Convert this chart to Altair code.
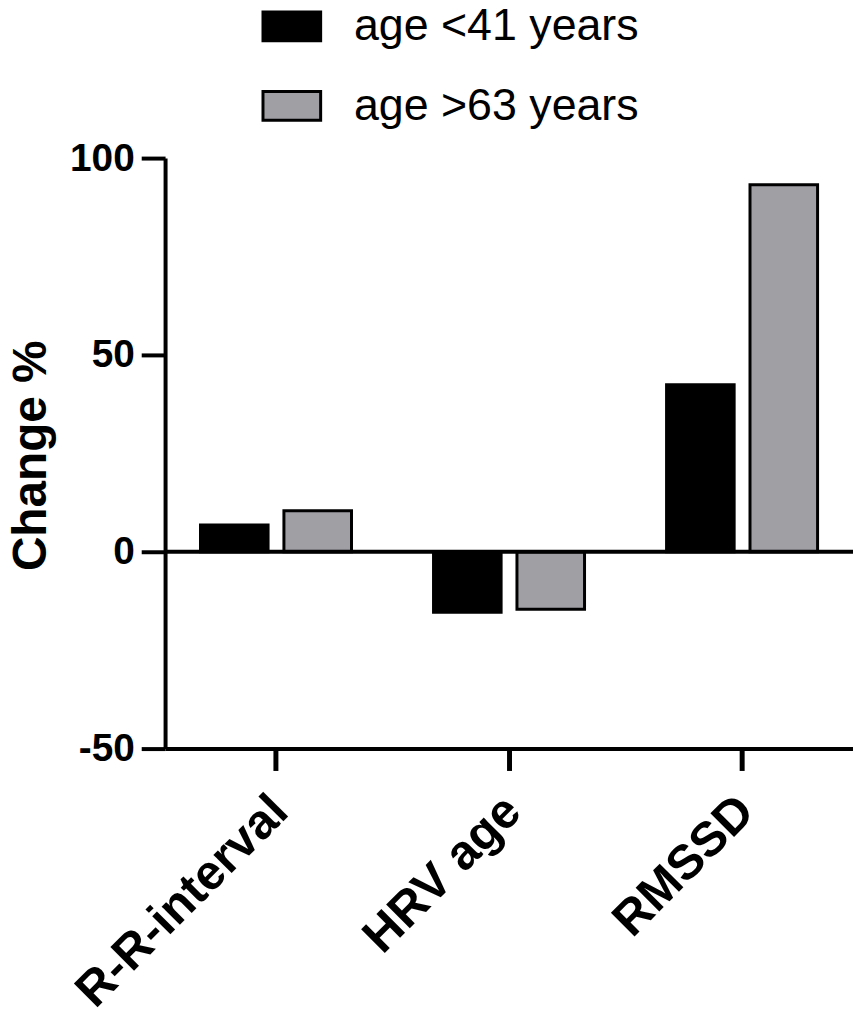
import altair as alt
import pandas as pd

categories = ["R-R-interval", "HRV age", "RMSSD"]
groups = ["age <41 years", "age >63 years"]
young = [6.8, -15.4, 42.4]
old = [10.4, -14.6, 93.2]
y_ticks = [-50, 0, 50, 100]
colors = ["#000000", "#a09fa4"]

rows = []
for c, a, b in zip(categories, young, old):
    rows.append({"category": c, "group": groups[0], "value": a})
    rows.append({"category": c, "group": groups[1], "value": b})
df = pd.DataFrame(rows)

FONT = "Liberation Sans"

bars = alt.Chart(df).mark_bar(stroke="black", strokeWidth=3).encode(
    x=alt.X(
        "category:N",
        sort=categories,
        scale=alt.Scale(paddingInner=0.352, paddingOuter=0.152),
        axis=alt.Axis(
            title=None,
            domainWidth=4,
            domainColor="black",
            tickWidth=5,
            tickColor="black",
            tickSize=22,
            labelAngle=-45,
            labelAlign="right",
            labelBaseline="top",
            labelOffset=-13,
            labelPadding=16,
            labelFontSize=49,
            labelFontWeight="bold",
            labelFont=FONT,
            labelColor="black",
            labelLimit=1000,
            grid=False,
        ),
    ),
    xOffset=alt.XOffset("group:N", sort=groups, scale=alt.Scale(paddingInner=0.19)),
    y=alt.Y(
        "value:Q",
        scale=alt.Scale(domain=[-50, 100], nice=False),
        axis=alt.Axis(
            values=y_ticks,
            labelExpr="datum.value < 0 ? '-' + abs(datum.value) : '' + datum.value",
            title="Change %",
            titleFontSize=48,
            titleFontWeight="bold",
            titleFont=FONT,
            titleColor="black",
            titleAngle=-90,
            titleBaseline="alphabetic",
            titleAlign="center",
            titleX=-120,
            titleY=299,
            domainWidth=4,
            domainColor="black",
            tickWidth=4,
            tickColor="black",
            tickSize=24,
            labelPadding=7,
            labelFontSize=39,
            labelFontWeight="bold",
            labelFont=FONT,
            labelColor="black",
            grid=False,
        ),
    ),
    color=alt.Color(
        "group:N",
        scale=alt.Scale(domain=groups, range=colors),
        legend=alt.Legend(
            title=None,
            orient="none",
            legendX=97,
            legendY=-163,
            symbolType="M-1,-0.5L1,-0.5L1,0.5L-1,0.5Z",
            symbolSize=3364,
            symbolStrokeColor="black",
            symbolStrokeWidth=3,
            symbolOpacity=1,
            labelFontSize=45,
            labelFont=FONT,
            labelColor="black",
            labelOffset=32,
            rowPadding=26,
            labelLimit=600,
        ),
    ),
)

zero = alt.Chart(pd.DataFrame({"y": [0]})).mark_rule(color="black", strokeWidth=4).encode(
    y=alt.Y("y:Q")
)

chart = (
    alt.layer(bars, zero)
    .properties(
        width=692,
        height=594,
        autosize=alt.AutoSizeParams(type="none"),
        padding={"left": 158, "top": 148, "right": 0, "bottom": 261},
    )
    .configure(font=FONT)
    .configure_view(stroke=None)
    .configure_axis(grid=False)
)

chart.save("out.html", embed_options={"renderer": "svg", "actions": False})
